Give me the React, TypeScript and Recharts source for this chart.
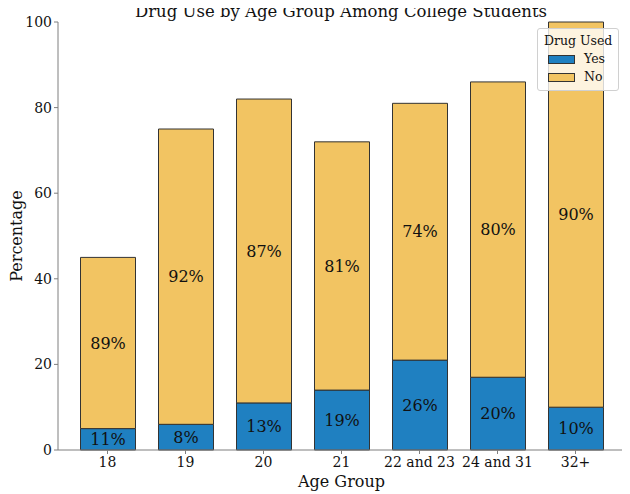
import React from 'react';
import { BarChart, Bar, XAxis, YAxis, LabelList } from 'recharts';

// Survey results: percentage of students per age group who did / did not use drugs
const ageGroups = ['18', '19', '20', '21', '22 and 23', '24 and 31', '32+'];
const usedYes = [5, 6, 11, 14, 21, 17, 10];
const usedNo = [40, 69, 71, 58, 60, 69, 90];
const yTicks = [0, 20, 40, 60, 80, 100];

const YES_COLOR = '#1f80c1';
const NO_COLOR = '#f2c462';
const EDGE = '#333333';
const SPINE = '#7f7f7f';
const FONT = '"DejaVu Serif", serif';

const share = (part: number, total: number) => Math.round((part / total) * 100);

const data = ageGroups.map((group, i) => {
  const total = usedYes[i] + usedNo[i];
  return {
    group,
    yes: usedYes[i],
    no: usedNo[i],
    yesPct: share(usedYes[i], total),
    noPct: share(usedNo[i], total),
  };
});

const legendItems = [
  { name: 'Yes', color: YES_COLOR },
  { name: 'No', color: NO_COLOR },
];

const W = 622;
const H = 486;

const YLabel = (props: any) => {
  const { x, y, height } = props.viewBox;
  const cx = x + 8;
  const cy = y + height / 2;
  return (
    <text
      x={cx}
      y={cy}
      transform={`rotate(-90, ${cx}, ${cy})`}
      textAnchor="middle"
      dominantBaseline="central"
      fontSize={16}
      fontFamily={FONT}
      fill="#111"
    >
      Percentage
    </text>
  );
};

const XLabel = (props: any) => {
  const { x, y, width } = props.viewBox;
  return (
    <text
      x={x + width / 2}
      y={y + 37}
      textAnchor="middle"
      fontSize={16}
      fontFamily={FONT}
      fill="#111"
    >
      Age Group
    </text>
  );
};

const LegendBox = () => (
  <div
    style={{
      position: 'absolute',
      left: 529,
      top: 20,
      fontFamily: FONT,
      fontSize: 12.5,
      color: '#111',
      background: 'rgba(255,255,255,0.8)',
      border: '1px solid #d0d0d0',
      borderRadius: 3,
      padding: '3px 6px 4px 6px',
      lineHeight: '18px',
    }}
  >
    <div style={{ textAlign: 'center' }}>Drug Used</div>
    {legendItems.map((e) => (
      <div key={e.name} style={{ display: 'flex', alignItems: 'center', paddingLeft: 4 }}>
        <span
          style={{
            display: 'inline-block',
            width: 25,
            height: 7,
            background: e.color,
            border: `1px solid ${EDGE}`,
            marginRight: 9,
          }}
        />
        <span>{e.name}</span>
      </div>
    ))}
  </div>
);

export default function App() {
  return (
    <div style={{ position: 'relative', width: W, height: H }}>
      <BarChart
        width={W}
        height={H}
        data={data}
        margin={{ top: 14, right: 5, left: 0, bottom: 14 }}
      >
        <XAxis
          dataKey="group"
          padding={{ left: 10.5, right: 10.5 }}
          height={30}
          tickSize={4}
          tickMargin={3}
          stroke={SPINE}
          tickLine={{ stroke: SPINE }}
          axisLine={{ stroke: SPINE }}
          tick={{ fill: '#111', fontSize: 14, fontFamily: FONT }}
          label={<XLabel />}
        />
        <XAxis
          xAxisId="top"
          orientation="top"
          dataKey="group"
          height={0}
          tick={false}
          tickLine={false}
          axisLine={{ stroke: SPINE }}
        />
        <YAxis
          domain={[0, 100]}
          ticks={yTicks}
          width={50}
          tickSize={4}
          tickMargin={2}
          stroke={SPINE}
          tickLine={{ stroke: SPINE }}
          axisLine={{ stroke: SPINE }}
          tick={{ fill: '#111', fontSize: 14, fontFamily: FONT }}
          label={<YLabel />}
        />
        <YAxis
          yAxisId="right"
          orientation="right"
          domain={[0, 100]}
          width={0}
          tick={false}
          tickLine={false}
          axisLine={{ stroke: SPINE }}
        />
        <Bar
          dataKey="yes"
          name="Yes"
          stackId="use"
          fill={YES_COLOR}
          stroke={EDGE}
          strokeWidth={1}
          barSize={55}
          isAnimationActive={false}
        >
          <LabelList
            dataKey="yesPct"
            position="center"
            formatter={(v: any) => `${v}%`}
            fill="#111"
            fontSize={16}
            fontFamily={FONT}
          />
        </Bar>
        <Bar
          dataKey="no"
          name="No"
          stackId="use"
          fill={NO_COLOR}
          stroke={EDGE}
          strokeWidth={1}
          barSize={55}
          isAnimationActive={false}
        >
          <LabelList
            dataKey="noPct"
            position="center"
            formatter={(v: any) => `${v}%`}
            fill="#111"
            fontSize={16}
            fontFamily={FONT}
          />
        </Bar>
      </BarChart>
      <LegendBox />
      <svg
        width={W}
        height={40}
        style={{ position: 'absolute', left: 0, top: -8, pointerEvents: 'none', overflow: 'visible' }}
      >
        <text x={333} y={17} textAnchor="middle" fontSize={16.5} fontFamily={FONT} fill="#111">
          Drug Use by Age Group Among College Students
        </text>
      </svg>
    </div>
  );
}
